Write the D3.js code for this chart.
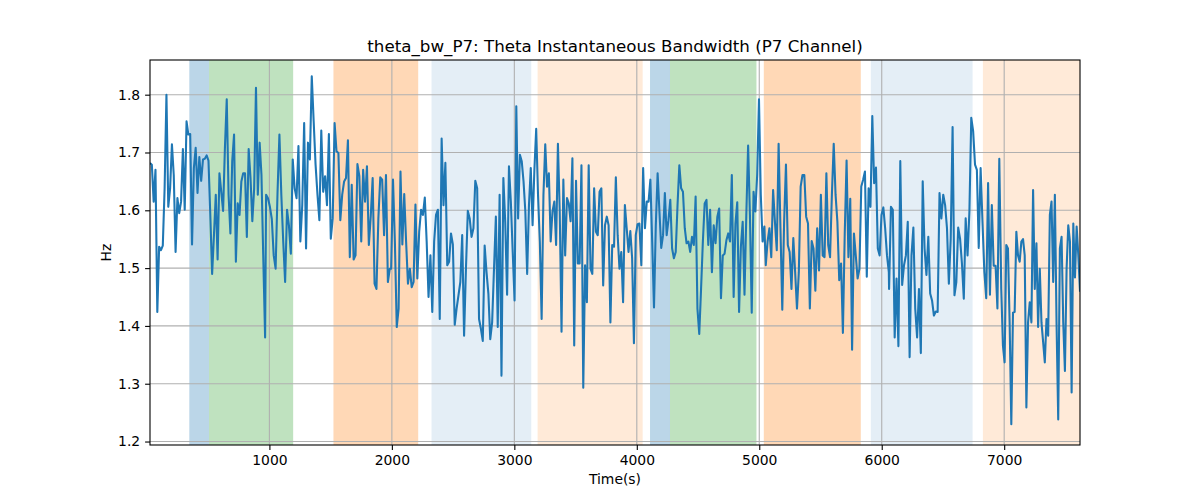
<!DOCTYPE html>
<html>
<head>
<meta charset="utf-8">
<script src="https://cdn.jsdelivr.net/npm/d3@7"></script>
<style>
  body { margin: 0; background: #fff; }
  svg { font-family: "DejaVu Sans", sans-serif; }
</style>
</head>
<body>
<svg id="chart" width="1200" height="500"></svg>
<script>
// bandwidth readings, one array per stretch of the recording
const seg1 = [1.682,1.679,1.615,1.670,1.424,1.537,1.531,1.539,1.638,1.800,1.606,1.638,1.714,1.661,1.528,1.621,1.595,1.615,1.706,1.601,1.754,1.731,1.732,1.541,1.673,1.708,1.630,1.692,1.651,1.688,1.689,1.695,1.686,1.592,1.490,1.557,1.627,1.515,1.664,1.632,1.599,1.708,1.792,1.627,1.560,1.685,1.731,1.511,1.612,1.592,1.650,1.664,1.664,1.554,1.706,1.656,1.581,1.638,1.812,1.627,1.717,1.661,1.517,1.380];
const seg2 = [1.627,1.621,1.606,1.585,1.522,1.499,1.630,1.731,1.627,1.546,1.476,1.601,1.574,1.525,1.688,1.638,1.621,1.711,1.546,1.609,1.751,1.534,1.717,1.688,1.832,1.754,1.679,1.627,1.583,1.738,1.632,1.659,1.609,1.732,1.551,1.586,1.751,1.702,1.699,1.583,1.627,1.650,1.656,1.721,1.519,1.644,1.515,1.522,1.680,1.659,1.546,1.670,1.615,1.676,1.540,1.590,1.656,1.473,1.464,1.586,1.657,1.653,1.557,1.661,1.476,1.499];
const seg3 = [1.499,1.653,1.546,1.398,1.430,1.667,1.541,1.628,1.546,1.473,1.499,1.467,1.476,1.610,1.482,1.563,1.601,1.592,1.622,1.546,1.450,1.522,1.424,1.546,1.592,1.601,1.412,1.724,1.609,1.682,1.505,1.511,1.560,1.541,1.402,1.430,1.453,1.476,1.557,1.383,1.499,1.599,1.586,1.554,1.569,1.651,1.638,1.412,1.395,1.374,1.539,1.493,1.456,1.377,1.406,1.499,1.589,1.398,1.627,1.314,1.656,1.580,1.454,1.676,1.615,1.528,1.444];
const seg4 = [1.780,1.586,1.696,1.685,1.650,1.598,1.490,1.609,1.673,1.574,1.670,1.741,1.627,1.546,1.412,1.627,1.714,1.641,1.664,1.546,1.598,1.615,1.540,1.715,1.598,1.390,1.653,1.522,1.621,1.612,1.581,1.690,1.366,1.651,1.508,1.508,1.678,1.293,1.505,1.441,1.678,1.499,1.490,1.638,1.563,1.557,1.632,1.638,1.470,1.574,1.589,1.574,1.406,1.540,1.537,1.657,1.557,1.499,1.528,1.441,1.609,1.569,1.528,1.564,1.517,1.370,1.557,1.576,1.577];
const seg5 = [1.505,1.673,1.569,1.615,1.615,1.653,1.546,1.432,1.574,1.664,1.598,1.535,1.557,1.630,1.557,1.583,1.618,1.534,1.517,1.528,1.609,1.678,1.638,1.632,1.569,1.543,1.546,1.528,1.554,1.540,1.624,1.430,1.386,1.464,1.546,1.612,1.618,1.540,1.601,1.493,1.574,1.543,1.589,1.603,1.448,1.522,1.525,1.548,1.560,1.546,1.661,1.450,1.577,1.614,1.424,1.537,1.580,1.454,1.592,1.712,1.592,1.423,1.632,1.598,1.661,1.792,1.627,1.546,1.572];
const seg6 = [1.505,1.546,1.569,1.519,1.635,1.580,1.531,1.715,1.569,1.428,1.580,1.679,1.540,1.528,1.464,1.552,1.493,1.430,1.493,1.641,1.661,1.661,1.589,1.577,1.430,1.547,1.534,1.461,1.569,1.496,1.627,1.522,1.519,1.664,1.540,1.519,1.627,1.715,1.627,1.580,1.479,1.508,1.388,1.560,1.686,1.519,1.620,1.359,1.560,1.522,1.482,1.499,1.641,1.653,1.667,1.485,1.638,1.606,1.763,1.647,1.674,1.534,1.522,1.592,1.605,1.569,1.522,1.493];
const seg7 = [1.464,1.606,1.601,1.380,1.482,1.365,1.685,1.471,1.505,1.522,1.580,1.346,1.522,1.570,1.430,1.380,1.464,1.353,1.650,1.534,1.488,1.554,1.456,1.444,1.418,1.425,1.424,1.630,1.586,1.627,1.609,1.569,1.473,1.551,1.744,1.453,1.476,1.570,1.551,1.508,1.447,1.586,1.522,1.598,1.760,1.737,1.679,1.670,1.535,1.673,1.580,1.493,1.448,1.647,1.454,1.609,1.504,1.504,1.430,1.689];
const seg8 = [1.464,1.366,1.337,1.540,1.534,1.406,1.230,1.423,1.424,1.563,1.522,1.511,1.546,1.550,1.522,1.259,1.406,1.441,1.406,1.635,1.464,1.543,1.398,1.499,1.406,1.372,1.337,1.412,1.383,1.592,1.615,1.476,1.627,1.406,1.238,1.534,1.554,1.406,1.322,1.499,1.574,1.546,1.285,1.577,1.484,1.572,1.522,1.459];

// time (s) covered by each stretch: [first sample, last sample]
const segTimes = [[25,965],[973,1983],[1994,3002],[3016,4021],[4037,5042],[5053,6058],[6060,6960],[6976,7619]];

// shaded state intervals
const spanStart = [346, 507, 1523, 2324, 3190, 4108, 4271, 5037, 5911, 6826];
const spanEnd   = [507, 1194, 2215, 3138, 4048, 4271, 4977, 5829, 6742, 7619];
const spanKind  = ["A","B","C","D","E","A","B","C","D","E"];

const yTicks = [1.2, 1.3, 1.4, 1.5, 1.6, 1.7, 1.8];
const xTicks = [1000, 2000, 3000, 4000, 5000, 6000, 7000];

const kindColor = {
  A: ["#1f77b4", 0.3],
  B: ["#2ca02c", 0.3],
  C: ["#ff7f0e", 0.3],
  D: ["#1f77b4", 0.12],
  E: ["#ff7f0e", 0.16]
};

// build the (time, value) table
const segs = [seg1, seg2, seg3, seg4, seg5, seg6, seg7, seg8];
const series = [];
segs.forEach((vals, k) => {
  const [t0, t1] = segTimes[k];
  const step = (t1 - t0) / (vals.length - 1);
  vals.forEach((v, i) => series.push({ t: t0 + i * step, v: v }));
});

const svg = d3.select("#chart");
const margin = { top: 60, right: 120, bottom: 55, left: 150 };
const width = 1200 - margin.left - margin.right;
const height = 500 - margin.top - margin.bottom;

const x = d3.scaleLinear()
    .domain(d3.extent(series, d => d.t))
    .range([0, width]);
const y = d3.scaleLinear()
    .domain([1.194, 1.860])
    .range([height, 0]);

const g = svg.append("g")
    .attr("transform", `translate(${margin.left},${margin.top})`);

g.append("clipPath").attr("id", "clip")
  .append("rect").attr("width", width).attr("height", height);

// spans
g.append("g").attr("clip-path", "url(#clip)")
  .selectAll("rect")
  .data(spanStart.map((s, i) => ({ s: s, e: spanEnd[i], k: spanKind[i] })))
  .enter().append("rect")
  .attr("x", d => x(d.s))
  .attr("y", 0)
  .attr("width", d => x(d.e) - x(d.s))
  .attr("height", height)
  .attr("fill", d => kindColor[d.k][0])
  .attr("fill-opacity", d => kindColor[d.k][1]);

// grid
g.append("g").selectAll("line")
  .data(xTicks).enter().append("line")
  .attr("x1", d => x(d)).attr("x2", d => x(d))
  .attr("y1", 0).attr("y2", height)
  .attr("stroke", "#b0b0b0").attr("stroke-width", 1.1);
g.append("g").selectAll("line")
  .data(yTicks).enter().append("line")
  .attr("y1", d => y(d)).attr("y2", d => y(d))
  .attr("x1", 0).attr("x2", width)
  .attr("stroke", "#b0b0b0").attr("stroke-width", 1.1);

// line
g.append("path")
  .datum(series)
  .attr("clip-path", "url(#clip)")
  .attr("fill", "none")
  .attr("stroke", "#1f77b4")
  .attr("stroke-width", 2.08)
  .attr("stroke-linejoin", "round")
  .attr("d", d3.line().x(d => x(d.t)).y(d => y(d.v)));

// axes
const xAxis = g.append("g")
    .attr("transform", `translate(0,${height})`)
    .call(d3.axisBottom(x).tickValues(xTicks).tickFormat(d3.format("d")).tickSize(4.9).tickPadding(4.9).tickSizeOuter(0));
const yAxis = g.append("g")
    .call(d3.axisLeft(y).tickValues(yTicks).tickFormat(d3.format(".1f")).tickSize(4.9).tickPadding(4.9).tickSizeOuter(0));
[xAxis, yAxis].forEach(a => {
  a.selectAll("text").attr("font-size", 13.9).attr("font-family", "DejaVu Sans").attr("fill", "#000");
  a.selectAll("line").attr("stroke", "#000").attr("stroke-width", 1.1);
  a.select(".domain").remove();
});

// frame
g.append("rect")
  .attr("width", width).attr("height", height)
  .attr("fill", "none").attr("stroke", "#000").attr("stroke-width", 1.1);

// labels
svg.append("text")
  .attr("x", margin.left + width / 2).attr("y", 51.5)
  .attr("text-anchor", "middle").attr("font-size", 16.7)
  .text("theta_bw_P7: Theta Instantaneous Bandwidth (P7 Channel)");
svg.append("text")
  .attr("x", margin.left + width / 2).attr("y", 484)
  .attr("text-anchor", "middle").attr("font-size", 13.9)
  .text("Time(s)");
svg.append("text")
  .attr("transform", `translate(110.5,${margin.top + height / 2}) rotate(-90)`)
  .attr("text-anchor", "middle").attr("font-size", 13.9)
  .text("Hz");
</script>
</body>
</html>
